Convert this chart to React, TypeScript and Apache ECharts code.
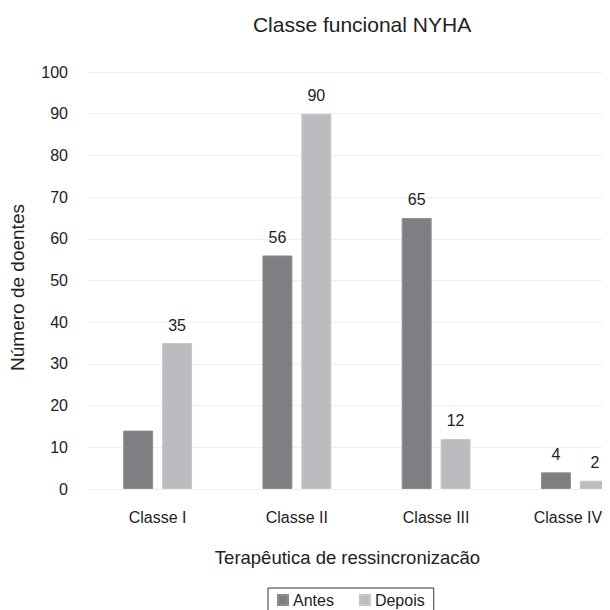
import React, { useEffect, useRef } from "react";
import * as echarts from "echarts";

const categories = ["Classe I", "Classe II", "Classe III", "Classe IV"];
const antes = [14, 56, 65, 4];
const depois = [35, 90, 12, 2];
const antesShowLabel = [false, true, true, true];
const yTicks = { min: 0, max: 100, interval: 10 };

const FONT = "'Liberation Sans', Arial, Helvetica, sans-serif";

export default function App() {
  const ref = useRef<HTMLDivElement>(null);
  useEffect(() => {
    if (!ref.current) return;
    const chart = echarts.init(ref.current, null, { renderer: "svg" });
    const last = categories.length - 1;
    chart.setOption({
      animation: false,
      textStyle: { fontFamily: FONT, color: "#222" },
      title: {
        text: "Classe funcional NYHA",
        left: 354,
        textAlign: "center",
        top: 6,
        padding: 0,
        textStyle: { fontSize: 21, fontWeight: "normal", color: "#222", fontFamily: FONT },
      },
      legend: {
        left: 260,
        top: 580,
        padding: [4, 9, 16, 9],
        borderColor: "#333",
        borderWidth: 1,
        itemWidth: 10,
        itemHeight: 10,
        itemGap: 25,
        icon: "rect",
        textStyle: { fontSize: 16, color: "#222", fontFamily: FONT },
        data: ["Antes", "Depois"],
      },
      grid: { left: 80, top: 64, width: 557, height: 417, outerBoundsMode: "none", containLabel: false },
      xAxis: {
        type: "category",
        data: categories.map((c, i) =>
          i === last ? { value: c, textStyle: { padding: [0, 15, 0, 0] } } : c
        ),
        name: "Terapêutica de ressincronizacão",
        nameLocation: "middle",
        nameGap: 59,
        nameTextStyle: { fontSize: 18.5, color: "#222", fontFamily: FONT, padding: [0, 38, 0, 0] },
        axisLine: { show: false },
        axisTick: { show: false },
        axisLabel: { fontSize: 16, color: "#222", margin: 20, fontFamily: FONT },
      },
      yAxis: {
        type: "value",
        min: yTicks.min,
        max: yTicks.max,
        interval: yTicks.interval,
        name: "Número de doentes",
        nameLocation: "middle",
        nameGap: 61,
        nameTextStyle: { fontSize: 19, color: "#222", fontFamily: FONT, padding: [0, 14, 0, 0] },
        axisLine: { show: false },
        axisTick: { show: false },
        axisLabel: { fontSize: 16, color: "#222", margin: 20, fontFamily: FONT },
        splitLine: { lineStyle: { color: "#eeeeee", width: 1 } },
      },
      series: [
        {
          name: "Antes",
          type: "bar",
          barWidth: "21.5%",
          barGap: "30%",
          itemStyle: { color: "#7f7f83", borderColor: "#8d8d91", borderWidth: 1 },
          label: { show: true, position: "top", distance: 10, fontSize: 16, color: "#222", fontFamily: FONT },
          data: antes.map((v, i) => ({ value: v, label: { show: antesShowLabel[i] } })),
        },
        {
          name: "Depois",
          type: "bar",
          barWidth: "21.5%",
          barGap: "30%",
          itemStyle: { color: "#bbbcc0", borderColor: "#c6c7ca", borderWidth: 1 },
          label: { show: true, position: "top", distance: 10, fontSize: 16, color: "#222", fontFamily: FONT },
          data: depois,
        },
      ],
    });
    return () => chart.dispose();
  }, []);
  return <div ref={ref} style={{ width: 602, height: 602 }} />;
}
